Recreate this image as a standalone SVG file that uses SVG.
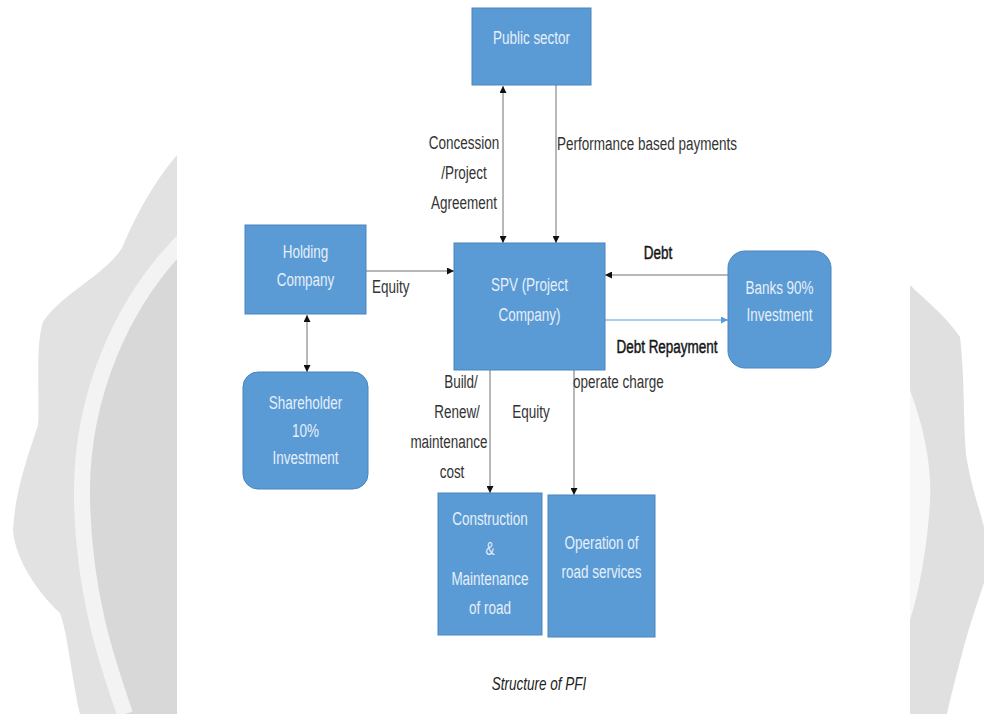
<svg xmlns="http://www.w3.org/2000/svg" width="984" height="714" viewBox="0 0 984 714">
<style>
.box{fill:#5b9bd5;stroke:#4a84bd;stroke-width:1}
.bt{font-family:"Liberation Sans",Arial,sans-serif;font-size:13.5px;fill:#e6effa;text-anchor:middle}
.lb{font-family:"Liberation Sans",Arial,sans-serif;font-size:13.5px;fill:#333}
.dk{fill:#151515;stroke:#151515;stroke-width:0.35}
.mid{text-anchor:middle}
.ln{stroke:#707070;stroke-width:1;fill:none}
.cap{font-family:"Liberation Sans",Arial,sans-serif;font-size:13.5px;font-style:italic;fill:#222;text-anchor:middle}
</style>
<defs>
<marker id="ah" viewBox="0 0 10 10" refX="10" refY="5" markerWidth="7" markerHeight="7" markerUnits="userSpaceOnUse" orient="auto-start-reverse"><path d="M0,0 L10,5 L0,10 Z" fill="#111"/></marker>
<marker id="ahb" viewBox="0 0 10 10" refX="10" refY="5" markerWidth="7" markerHeight="7" markerUnits="userSpaceOnUse" orient="auto"><path d="M0,0 L10,5 L0,10 Z" fill="#5b9bd5"/></marker>
</defs>
<rect x="0" y="0" width="984" height="714" fill="#ffffff"/>
<g id="background">
<path d="M177,155 C160,175 140,205 122,248 C105,275 60,295 43,322 C35,345 40,400 38,425 C30,450 15,490 13,530 C15,560 40,595 60,613 C68,635 72,680 80,714 L177,714 Z" fill="#e2e2e2"/>
<path d="M192,232 C120,300 80,400 82,500 C84,600 110,670 125,714 L177,714 L177,232 Z" fill="#d8d8d8"/>
<path d="M192,232 C120,300 80,400 82,500 C84,600 110,670 125,714" fill="none" stroke="#f3f3f3" stroke-width="16"/>
<path d="M910,285 C925,300 945,315 960,337 C965,380 963,420 966,455 C972,490 980,510 984,527 L984,583 C975,610 968,630 963,650 C955,680 950,700 947,714 L910,714 Z" fill="#e0e0e0"/>
<path d="M910,390 C925,430 932,470 930,500 C928,540 920,590 910,620 Z" fill="#f7f7f7"/>
<rect x="177" y="0" width="733" height="714" fill="#ffffff"/>
</g>
<g id="connectors">
<line class="ln" x1="503" y1="86" x2="503" y2="243" marker-start="url(#ah)" marker-end="url(#ah)"/>
<line class="ln" x1="556" y1="85" x2="556" y2="243" marker-end="url(#ah)"/>
<line class="ln" x1="366" y1="271" x2="454" y2="271" marker-end="url(#ah)"/>
<line class="ln" x1="307" y1="315" x2="307" y2="372" marker-start="url(#ah)" marker-end="url(#ah)"/>
<line class="ln" x1="728" y1="275" x2="605" y2="275" marker-end="url(#ah)"/>
<line x1="605" y1="320" x2="728" y2="320" stroke="#5b9bd5" stroke-width="1.2" marker-end="url(#ahb)"/>
<line class="ln" x1="490" y1="370" x2="490" y2="493" marker-end="url(#ah)"/>
<line class="ln" x1="574" y1="370" x2="574" y2="495" marker-end="url(#ah)"/>
<text class="lb mid" transform="translate(464,149) scale(1,1.3)">Concession</text>
<text class="lb mid" transform="translate(464,179) scale(1,1.3)">/Project</text>
<text class="lb mid" transform="translate(464,209) scale(1,1.3)">Agreement</text>
<text class="lb" transform="translate(557,150) scale(1,1.3)">Performance based payments</text>
<text class="lb" transform="translate(372,293) scale(1,1.3)">Equity</text>
<text class="lb dk mid" transform="translate(658,259) scale(1,1.3)">Debt</text>
<text class="lb dk mid" transform="translate(667,353) scale(1,1.3)">Debt Repayment</text>
<text class="lb mid" transform="translate(461,388) scale(1,1.3)">Build/</text>
<text class="lb mid" transform="translate(457,418) scale(1,1.3)">Renew/</text>
<text class="lb mid" transform="translate(449,448) scale(1,1.3)">maintenance</text>
<text class="lb mid" transform="translate(452,478) scale(1,1.3)">cost</text>
<text class="lb mid" transform="translate(531,418) scale(1,1.3)">Equity</text>
<text class="lb" transform="translate(573,388) scale(1,1.3)">operate charge</text>
</g>
<g id="public-sector">
<rect class="box" x="472" y="8" width="119" height="77"/>
<text class="bt" transform="translate(531.5,44) scale(1,1.3)">Public sector</text>
</g>
<g id="holding-company">
<rect class="box" x="245" y="225" width="121" height="89"/>
<text class="bt" transform="translate(305.5,258) scale(1,1.3)">Holding</text>
<text class="bt" transform="translate(305.5,286) scale(1,1.3)">Company</text>
</g>
<g id="shareholder">
<rect class="box" x="243" y="372" width="125" height="117" rx="15"/>
<text class="bt" transform="translate(305.5,409) scale(1,1.3)">Shareholder</text>
<text class="bt" transform="translate(305.5,437) scale(1,1.3)">10%</text>
<text class="bt" transform="translate(305.5,464) scale(1,1.3)">Investment</text>
</g>
<g id="spv">
<rect class="box" x="454" y="243" width="151" height="127"/>
<text class="bt" transform="translate(529.5,291) scale(1,1.3)">SPV (Project</text>
<text class="bt" transform="translate(529.5,321) scale(1,1.3)">Company)</text>
</g>
<g id="banks">
<rect class="box" x="728" y="251" width="103" height="117" rx="17"/>
<text class="bt" transform="translate(779.5,294) scale(1,1.3)">Banks 90%</text>
<text class="bt" transform="translate(779.5,321) scale(1,1.3)">Investment</text>
</g>
<g id="construction">
<rect class="box" x="438" y="493" width="104" height="142"/>
<text class="bt" transform="translate(490,525) scale(1,1.3)">Construction</text>
<text class="bt" transform="translate(490,555) scale(1,1.3)">&amp;</text>
<text class="bt" transform="translate(490,585) scale(1,1.3)">Maintenance</text>
<text class="bt" transform="translate(490,614) scale(1,1.3)">of road</text>
</g>
<g id="operation">
<rect class="box" x="548" y="495" width="107" height="142"/>
<text class="bt" transform="translate(601.5,549) scale(1,1.3)">Operation of</text>
<text class="bt" transform="translate(601.5,578) scale(1,1.3)">road services</text>
</g>
<text class="cap" transform="translate(539,690) scale(1,1.3)">Structure of PFI</text>
</svg>
